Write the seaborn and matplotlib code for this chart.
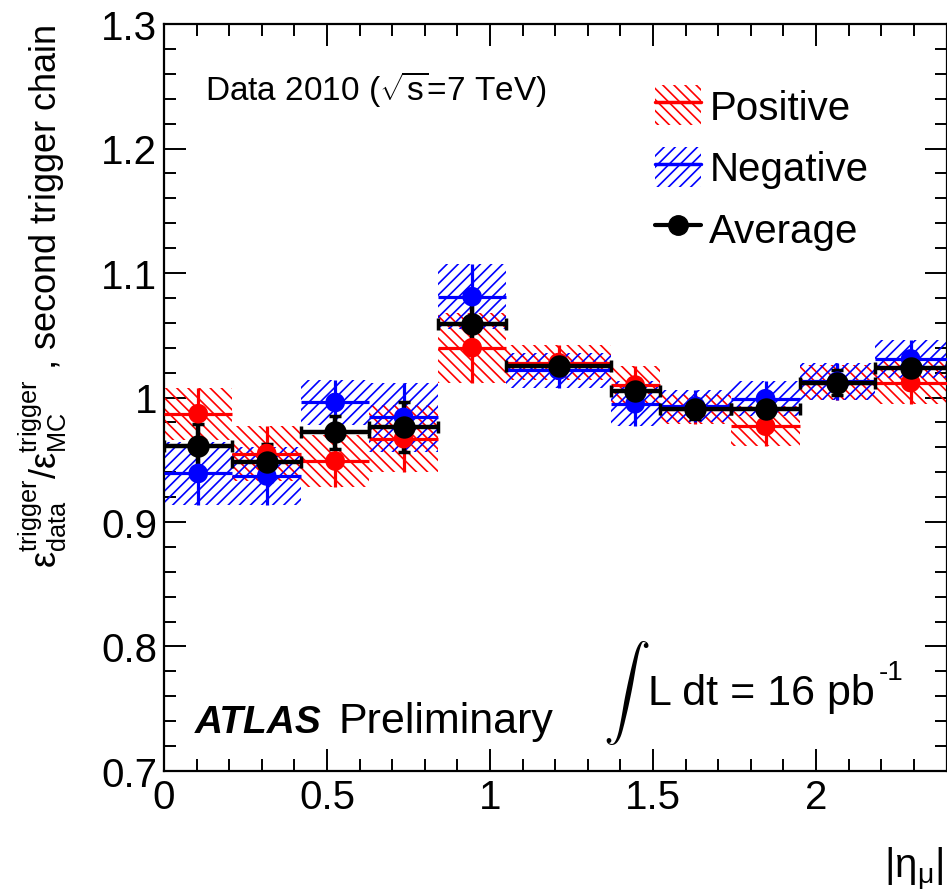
import numpy as np
import pandas as pd
import matplotlib
matplotlib.use("Agg")
import matplotlib.pyplot as plt
import seaborn as sns
from matplotlib.patches import Patch
from matplotlib.lines import Line2D
from matplotlib.ticker import MultipleLocator, FixedLocator, FixedFormatter

# ---- data ----
bin_edges = [0.0, 0.21, 0.42, 0.63, 0.84, 1.05, 1.37, 1.52, 1.74, 1.95, 2.18, 2.4]
pos_val = [0.987, 0.955, 0.949, 0.967, 1.040, 1.028, 1.010, 0.991, 0.977, 1.012, 1.012]
pos_err = [0.021, 0.022, 0.021, 0.027, 0.028, 0.014, 0.015, 0.012, 0.016, 0.014, 0.017]
neg_val = [0.939, 0.937, 0.996, 0.984, 1.081, 1.022, 0.995, 0.993, 0.999, 1.013, 1.031]
neg_err = [0.025, 0.023, 0.018, 0.028, 0.026, 0.014, 0.018, 0.013, 0.014, 0.015, 0.015]
avg_val = [0.961, 0.948, 0.972, 0.976, 1.059, 1.025, 1.005, 0.991, 0.991, 1.012, 1.024]
avg_err = [0.018, 0.015, 0.013, 0.020, 0.020, 0.007, 0.010, 0.008, 0.010, 0.010, 0.012]
x_ticks = [0, 0.5, 1, 1.5, 2]
x_tick_labels = ["0", "0.5", "1", "1.5", "2"]
y_ticks = [0.7, 0.8, 0.9, 1.0, 1.1, 1.2, 1.3]
y_tick_labels = ["0.7", "0.8", "0.9", "1", "1.1", "1.2", "1.3"]

edges = np.array(bin_edges)
centers = (edges[:-1] + edges[1:]) / 2
half_w = (edges[1:] - edges[:-1]) / 2

df = pd.DataFrame({
    "eta": np.concatenate([centers] * 3),
    "val": pos_val + neg_val + avg_val,
    "series": ["Positive"] * 11 + ["Negative"] * 11 + ["Average"] * 11,
})

sns.set_theme(style="ticks")
plt.rcParams["font.family"] = ["Liberation Sans", "DejaVu Sans"]
plt.rcParams["mathtext.fontset"] = "custom"
plt.rcParams["mathtext.rm"] = "Liberation Sans"
plt.rcParams["mathtext.it"] = "Liberation Sans:italic"
plt.rcParams["mathtext.bf"] = "Liberation Sans:bold"
plt.rcParams["hatch.linewidth"] = 1.2
plt.rcParams["text.color"] = "black"
plt.rcParams["axes.labelcolor"] = "black"

fig = plt.figure(figsize=(9.47, 8.95), dpi=100)
W, H = 947, 895
ax = fig.add_axes([164 / W, 1 - 772 / H, (946.5 - 164) / W, (772 - 25) / H])

RED_HATCH = "\\\\\\"
BLUE_HATCH = "///"

# systematic bands
ax.bar(centers, 2 * np.array(pos_err), bottom=np.array(pos_val) - np.array(pos_err),
       width=2 * half_w, fill=False, hatch=RED_HATCH, edgecolor="red", linewidth=0, zorder=1)
ax.bar(centers, 2 * np.array(neg_err), bottom=np.array(neg_val) - np.array(neg_err),
       width=2 * half_w, fill=False, hatch=BLUE_HATCH, edgecolor="blue", linewidth=0, zorder=1.1)

# error bars
ax.errorbar(centers, pos_val, xerr=half_w, yerr=pos_err, fmt="none", ecolor="red",
            elinewidth=2.3, zorder=3)
ax.errorbar(centers, neg_val, xerr=half_w, yerr=neg_err, fmt="none", ecolor="blue",
            elinewidth=2.3, zorder=4)
ax.errorbar(centers, avg_val, xerr=half_w, yerr=avg_err, fmt="none", ecolor="black",
            elinewidth=3.2, capsize=4.5, capthick=2.5, zorder=5)

sns.scatterplot(data=df[df.series != "Average"], x="eta", y="val", hue="series",
                palette={"Positive": "red", "Negative": "blue"},
                hue_order=["Positive", "Negative"],
                s=200, linewidth=0, legend=False, ax=ax, zorder=6)
sns.scatterplot(data=df[df.series == "Average"], x="eta", y="val", color="black",
                s=260, linewidth=0, legend=False, ax=ax, zorder=7)

ax.set_xlim(0, 2.4)
ax.set_ylim(0.7, 1.3)
ax.xaxis.set_major_locator(FixedLocator(x_ticks))
ax.xaxis.set_major_formatter(FixedFormatter(x_tick_labels))
ax.yaxis.set_major_locator(FixedLocator(y_ticks))
ax.yaxis.set_major_formatter(FixedFormatter(y_tick_labels))
ax.xaxis.set_minor_locator(MultipleLocator(0.1))
ax.yaxis.set_minor_locator(MultipleLocator(0.02))
ax.tick_params(which="both", direction="in", top=True, right=True, width=1.4,
               color="black", labelcolor="black")
ax.tick_params(which="major", length=16)
ax.tick_params(which="minor", length=8.5)
ax.tick_params(axis="both", labelsize=29)
ax.tick_params(axis="x", pad=5)
ax.tick_params(axis="y", pad=5)
for s in ax.spines.values():
    s.set_linewidth(1.6)
    s.set_color("black")
ax.set_xlabel("")
ax.set_ylabel(r"$\mathrm{\varepsilon}_{\mathrm{data}}^{\mathrm{trigger}}/\mathrm{\varepsilon}_{\mathrm{MC}}^{\mathrm{trigger}}$ , second trigger chain",
              fontsize=26, color="black", labelpad=8)
ax.yaxis.set_label_coords(-0.155, 1.0, transform=ax.transAxes)
ax.yaxis.label.set_ha("right")
ax.yaxis.label.set_va("center")

fig.text(943 / W, 1 - 870 / H, r"$|\mathrm{\eta}_{\mathrm{\mu}}|$", fontsize=29, ha="right", va="center")

fig.text(205 / W, 1 - 100 / H, r"Data 2010 ($\sqrt{\mathrm{s}}$=7 TeV)", fontsize=24,
         ha="left", va="baseline")
fig.text(195 / W, 1 - 733 / H, "ATLAS", fontsize=28, fontweight="bold", fontstyle="italic",
         ha="left", va="baseline")
fig.text(338 / W, 1 - 733 / H, "Preliminary", fontsize=31, ha="left", va="baseline")
fig.text(626 / W, 1 - 693 / H, r"$\int$", fontsize=34, math_fontfamily="cm",
         ha="center", va="center")
fig.text(648 / W, 1 - 705 / H, "L dt = 16 pb", fontsize=31, ha="left", va="baseline")
fig.text(879 / W, 1 - 680 / H, "-1", fontsize=20, ha="left", va="baseline")

handles = [
    (Patch(facecolor="none", edgecolor="red", hatch=RED_HATCH, linewidth=0),
     Line2D([], [], color="red", lw=2.5)),
    (Patch(facecolor="none", edgecolor="blue", hatch=BLUE_HATCH, linewidth=0),
     Line2D([], [], color="blue", lw=2.5)),
    Line2D([], [], color="black", lw=3, marker="o", markersize=14),
]
leg = ax.legend(handles, ["Positive", "Negative", "Average"], loc="upper left",
                bbox_to_anchor=((655 - 164) / (946.5 - 164), 1 - (86 - 25) / (772 - 25)),
                frameon=False, fontsize=29, handlelength=1.15, handleheight=1.15,
                handletextpad=0.2, labelspacing=0.5, borderpad=0, borderaxespad=0)
for t in leg.get_texts():
    t.set_color("black")

fig.savefig("out.png", dpi=100)
